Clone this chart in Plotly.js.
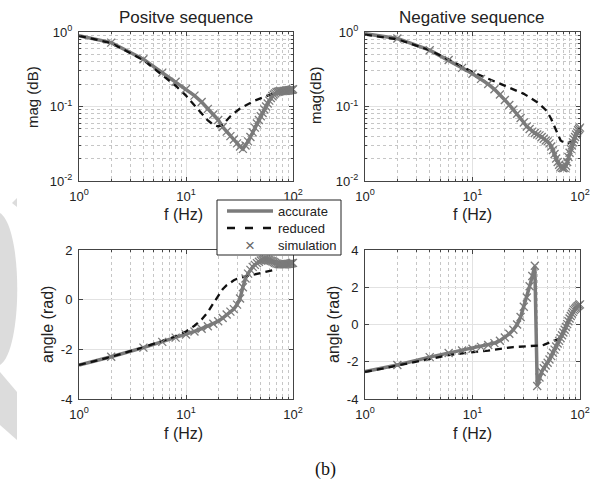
<!DOCTYPE html>
<html><head><meta charset="utf-8">
<script src="https://cdn.plot.ly/plotly-3.0.1.min.js"></script>
<style>html,body{margin:0;padding:0;background:#fff}#chart{width:610px;height:483px}</style>
</head><body><div id="chart"></div>
<script>
// ---------- data ----------
const freq = [1,2,4,6,8,10,12,14,16,18,20,22,24,26,28,30,32,34,36,38,40,42,44,46,48,50,52,54,56,58,60,62,64,66,68,70,72,74,76,78,80,82,84,86,88,90,92,94,96,98,100];
const freqSim = [2,4,6,8,10,12,14,16,18,20,22,24,26,28,30,32,34,36,38,40,42,44,46,48,50,52,54,56,58,60,62,64,66,68,70,72,74,76,78,80,82,84,86,88,90,92,94,96,98,100];

const posMagAcc = [0.89, 0.72,0.43,0.285,0.215,0.172, 0.14,0.115,0.093,0.078,0.066, 0.053,0.046,0.04,0.036,0.032, 0.029,0.027,0.03,0.034,0.039, 0.045,0.052,0.059,0.066,0.074, 0.082,0.091,0.1,0.11,0.12, 0.13,0.138,0.145,0.15,0.155, 0.158,0.159,0.16,0.161,0.161, 0.162,0.162,0.163,0.164,0.164, 0.165,0.166,0.167,0.168,0.17];
const posMagRed = [0.89, 0.71,0.42,0.265,0.19,0.14, 0.105,0.08,0.065,0.057,0.054, 0.057,0.066,0.074,0.081,0.088, 0.094,0.099,0.104,0.108,0.112, 0.116,0.12,0.123,0.126,0.13, 0.133,0.136,0.139,0.142,0.145, 0.148,0.15,0.152,0.154,0.156, 0.158,0.159,0.16,0.161,0.162, 0.162,0.163,0.163,0.164,0.164, 0.165,0.166,0.167,0.168,0.17];
const posMagSim = [0.72,0.43,0.285,0.215,0.172, 0.14,0.115,0.093,0.078,0.066, 0.053,0.046,0.04,0.036,0.032, 0.029,0.027,0.03,0.034,0.039, 0.045,0.052,0.059,0.066,0.074, 0.082,0.091,0.1,0.11,0.12, 0.13,0.138,0.145,0.15,0.155, 0.158,0.159,0.16,0.161,0.161, 0.162,0.162,0.163,0.164,0.164, 0.165,0.166,0.167,0.168,0.17];

const negMagAcc = [0.95, 0.82,0.57,0.42,0.33,0.275, 0.235,0.2,0.17,0.145,0.122, 0.105,0.091,0.08,0.07,0.061, 0.054,0.05,0.046,0.044,0.042, 0.041,0.039,0.037,0.035,0.034, 0.032,0.029,0.026,0.023,0.02, 0.018,0.0165,0.0155,0.015,0.0148, 0.015,0.016,0.018,0.021,0.024, 0.027,0.03,0.033,0.036,0.039, 0.042,0.045,0.048,0.05,0.052];
const negMagRed = [0.92, 0.8,0.57,0.43,0.345,0.29, 0.26,0.235,0.215,0.2,0.19, 0.18,0.17,0.162,0.155,0.148, 0.14,0.133,0.126,0.12,0.114, 0.108,0.102,0.096,0.09,0.083, 0.076,0.068,0.06,0.053,0.047, 0.042,0.038,0.035,0.034,0.033, 0.033,0.032,0.032,0.032,0.033, 0.033,0.034,0.035,0.036,0.038, 0.04,0.042,0.044,0.046,0.048];
const negMagSim = [0.82,0.57,0.42,0.33,0.275, 0.235,0.2,0.17,0.145,0.122, 0.105,0.091,0.08,0.07,0.061, 0.054,0.05,0.046,0.044,0.042, 0.041,0.039,0.037,0.035,0.034, 0.032,0.029,0.026,0.023,0.02, 0.018,0.0165,0.0155,0.015,0.0148, 0.015,0.016,0.018,0.021,0.024, 0.027,0.03,0.033,0.036,0.039, 0.042,0.045,0.048,0.05,0.052];

const posAngAcc = [-2.63, -2.3,-1.93,-1.7,-1.53,-1.4, -1.28,-1.17,-1.07,-0.97,-0.87, -0.74,-0.6,-0.48,-0.38,-0.2, 0.05,0.5,0.85,1.05,1.2, 1.32,1.4,1.47,1.53,1.58, 1.6,1.61,1.61,1.6,1.59, 1.57,1.55,1.52,1.49,1.46, 1.44,1.43,1.43,1.42,1.42, 1.42,1.42,1.43,1.43,1.44, 1.44,1.45,1.46,1.47,1.48];
const posAngRed = [-2.63, -2.3,-1.92,-1.67,-1.48,-1.28, -1.05,-0.8,-0.5,-0.15,0.18, 0.42,0.58,0.7,0.78,0.84, 0.88,0.91,0.94,0.96,0.98, 1.0,1.02,1.04,1.06,1.08, 1.09,1.1,1.11,1.12,1.13, 1.15,1.18,1.22,1.27,1.32, 1.36,1.39,1.41,1.42,1.42, 1.42,1.42,1.43,1.43,1.44, 1.44,1.45,1.46,1.47,1.48];
const posAngSim = [-2.3,-1.93,-1.7,-1.53,-1.4, -1.28,-1.17,-1.07,-0.97,-0.87, -0.74,-0.6,-0.48,-0.38,-0.2, 0.05,0.5,0.85,1.05,1.2, 1.32,1.4,1.47,1.53,1.58, 1.6,1.61,1.61,1.6,1.59, 1.57,1.55,1.52,1.49,1.46, 1.44,1.43,1.43,1.42,1.42, 1.42,1.42,1.43,1.43,1.44, 1.44,1.45,1.46,1.47,1.48];

const negAngAcc = [-2.53, -2.17,-1.75,-1.53,-1.4,-1.3, -1.2,-1.1,-1.0,-0.87,-0.7, -0.5,-0.28,0.0,0.4,0.95, 1.45,2.05,2.6,3.15,-3.3, -2.85,-2.55,-2.35,-2.2,-2.05, -1.88,-1.7,-1.52,-1.35,-1.18, -1.02,-0.88,-0.73,-0.58,-0.43, -0.28,-0.13,0.02,0.17,0.32, 0.46,0.58,0.68,0.77,0.84, 0.9,0.96,1.0,1.04,1.08];
const negAngRed = [-2.55, -2.2,-1.82,-1.65,-1.55,-1.5, -1.45,-1.4,-1.35,-1.3,-1.26, -1.23,-1.21,-1.2,-1.19,-1.18, -1.17,-1.16,-1.16,-1.16,-1.15, -1.14,-1.12,-1.09,-1.05,-1.0, -0.96,-0.92,-0.88,-0.84,-0.8, -0.78,-0.76,-0.73,-0.58,-0.43, -0.28,-0.13,0.02,0.17,0.32, 0.46,0.58,0.68,0.77,0.84, 0.9,0.96,1.0,1.04,1.08];
const negAngSim = [-2.17,-1.75,-1.53,-1.4,-1.3, -1.2,-1.1,-1.0,-0.87,-0.7, -0.5,-0.28,0.0,0.4,0.95, 1.45,2.05,2.6,3.15,-3.3, -2.85,-2.55,-2.35,-2.2,-2.05, -1.88,-1.7,-1.52,-1.35,-1.18, -1.02,-0.88,-0.73,-0.58,-0.43, -0.28,-0.13,0.02,0.17,0.32, 0.46,0.58,0.68,0.77,0.84, 0.9,0.96,1.0,1.04,1.08];

const seriesNames = ['accurate','reduced','simulation'];
const xTickVals = [1,10,100];
const xTickText = ['10<sup>0</sup>','10<sup>1</sup>','10<sup>2</sup>'];
const xMinorVals = [2,3,4,5,6,7,8,9,20,30,40,50,60,70,80,90];
const magTickVals = [0.01,0.1,1];
const magTickText = ['10<sup>-2</sup>','10<sup>-1</sup>','10<sup>0</sup>'];
const magMinorVals = [0.02,0.03,0.04,0.05,0.06,0.07,0.08,0.09,0.2,0.3,0.4,0.5,0.6,0.7,0.8,0.9];
const posAngTickVals = [-4,-2,0,2];
const posAngTickText = ['-4','-2','0','2'];
const negAngTickVals = [-4,-2,0,2,4];
const negAngTickText = ['-4','-2','0','2','4'];
const panelTitles = ['Positve sequence','Negative sequence'];
const xTitle = 'f (Hz)';
const yTitles = ['mag (dB)','mag(dB)','angle (rad)','angle (rad)'];
const caption = '(b)';

// ---------- styling ----------
const FONT = 'Liberation Sans, Arial, Helvetica, sans-serif';
const W = 610, H = 483;
const px = v => v / W;
const py = v => 1 - v / H;
const GRAY = '#7b7b7b';
const DASH = '7px,5px';

function baseAxis() {
  return {
    showline: true, linecolor: '#444', linewidth: 1, mirror: 'ticks',
    ticks: 'inside', ticklen: 4, tickwidth: 1, tickcolor: '#444',
    showgrid: true, gridcolor: '#e2e2e2', gridwidth: 1, zeroline: false,
    tickmode: 'array', fixedrange: true, ticklabelstandoff: 3,
    tickfont: {family: FONT, size: 13, color: '#222'}
  };
}
function logMinor(vals) {
  return {tickmode: 'array', tickvals: vals, ticks: 'inside', ticklen: 2, tickcolor: '#444',
          showgrid: true, gridcolor: '#c6c6c6', griddash: 'dot', gridwidth: 1};
}
function xAxis(dom, anchor) {
  return Object.assign(baseAxis(), {domain: dom, anchor: anchor, type: 'log', range: [0, 2],
    tickvals: xTickVals, ticktext: xTickText, minor: logMinor(xMinorVals)});
}
function magAxis(dom, anchor) {
  return Object.assign(baseAxis(), {domain: dom, anchor: anchor, type: 'log', range: [-2, 0],
    tickvals: magTickVals, ticktext: magTickText, minor: logMinor(magMinorVals)});
}
function angAxis(dom, anchor, rng, tv, tt) {
  return Object.assign(baseAxis(), {domain: dom, anchor: anchor, range: rng,
    tickvals: tv, ticktext: tt});
}

const xL = [px(79), px(293)], xR = [px(365), px(580)];
const yT = [py(181), py(32)], yB = [py(399), py(250)];

function panel(xa, ya, acc, red, sim) {
  return [
    {x: freq, y: acc, xaxis: xa, yaxis: ya, type: 'scatter', mode: 'lines', name: seriesNames[0],
     line: {color: GRAY, width: 3.5}, showlegend: false},
    {x: freq, y: red, xaxis: xa, yaxis: ya, type: 'scatter', mode: 'lines', name: seriesNames[1],
     line: {color: '#111', width: 2.3, dash: DASH}, showlegend: false},
    {x: freqSim, y: sim, xaxis: xa, yaxis: ya, type: 'scatter', mode: 'markers', name: seriesNames[2],
     marker: {symbol: 'x-thin', size: 8, color: GRAY, line: {color: GRAY, width: 1.3}},
     cliponaxis: false, showlegend: false}
  ];
}

const data = [].concat(
  panel('x', 'y', posMagAcc, posMagRed, posMagSim),
  panel('x2', 'y2', negMagAcc, negMagRed, negMagSim),
  panel('x3', 'y3', posAngAcc, posAngRed, posAngSim),
  panel('x4', 'y4', negAngAcc, negAngRed, negAngSim)
);

function ann(text, x, y, size, extra) {
  return Object.assign({text: text, x: px(x), y: py(y), xref: 'paper', yref: 'paper',
    showarrow: false, xanchor: 'center', yanchor: 'middle',
    font: {family: FONT, size: size, color: '#222'}}, extra || {});
}

const annotations = [
  ann(panelTitles[0], 186, 17, 17),
  ann(panelTitles[1], 472, 17, 17),
  ann(xTitle, 183, 214, 16),
  ann(xTitle, 472, 214, 16),
  ann(xTitle, 183, 433, 16),
  ann(xTitle, 472, 433, 16),
  ann(yTitles[0], 33, 97, 15, {textangle: -90}),
  ann(yTitles[1], 315, 95, 15, {textangle: -90}),
  ann(yTitles[2], 47, 325, 16, {textangle: -90}),
  ann(yTitles[3], 333, 325, 16, {textangle: -90}),
  ann(caption, 325, 469, 18, {font: {family: 'Liberation Serif, Times New Roman, serif', size: 18, color: '#111'}}),
  // legend entries
  ann(seriesNames[0], 276, 211, 13, {xanchor: 'left'}),
  ann(seriesNames[1], 276, 228, 13, {xanchor: 'left'}),
  ann(seriesNames[2], 276, 245, 13, {xanchor: 'left'}),
  ann('\u00d7', 250, 245, 17, {font: {family: FONT, size: 17, color: '#666'}})
];

const wm = '#dcdcdc';
const shapes = [
  {type: 'path', xref: 'paper', yref: 'paper', layer: 'below', fillcolor: wm, line: {width: 0},
   path: `M0,${py(213)} C${px(23)},${py(228)} ${px(23)},${py(350)} 0,${py(365)} Z`},
  {type: 'path', xref: 'paper', yref: 'paper', layer: 'below', fillcolor: wm, line: {width: 0},
   path: `M0,${py(372)} L${px(17)},${py(392)} L${px(17)},${py(440)} L0,${py(425)} Z`},
  {type: 'path', xref: 'paper', yref: 'paper', layer: 'below', fillcolor: wm, line: {width: 0},
   path: `M${px(12)},${py(203)} L${px(17)},${py(198)} L${px(17)},${py(207)} Z`},
  // legend box and samples
  {type: 'rect', xref: 'paper', yref: 'paper', layer: 'above', x0: px(217), x1: px(341), y0: py(200), y1: py(255),
   fillcolor: '#fff', line: {color: '#222', width: 1}},
  {type: 'line', xref: 'paper', yref: 'paper', layer: 'above', x0: px(227), x1: px(273), y0: py(211), y1: py(211),
   line: {color: GRAY, width: 3.5}},
  {type: 'line', xref: 'paper', yref: 'paper', layer: 'above', x0: px(227), x1: px(273), y0: py(228), y1: py(228),
   line: {color: '#111', width: 2.3, dash: '8px,10px'}}
];

const layout = {
  width: W, height: H, margin: {l: 0, r: 0, t: 0, b: 0},
  paper_bgcolor: '#fff', plot_bgcolor: '#fff',
  font: {family: FONT, color: '#222'},
  xaxis: xAxis(xL, 'y'), yaxis: magAxis(yT, 'x'),
  xaxis2: xAxis(xR, 'y2'), yaxis2: magAxis(yT, 'x2'),
  xaxis3: xAxis(xL, 'y3'), yaxis3: angAxis(yB, 'x3', [-4, 2], posAngTickVals, posAngTickText),
  xaxis4: xAxis(xR, 'y4'), yaxis4: angAxis(yB, 'x4', [-4, 4], negAngTickVals, negAngTickText),
  showlegend: false,
  annotations: annotations,
  shapes: shapes
};

Plotly.newPlot('chart', data, layout, {staticPlot: true, displayModeBar: false});
</script>
</body></html>
